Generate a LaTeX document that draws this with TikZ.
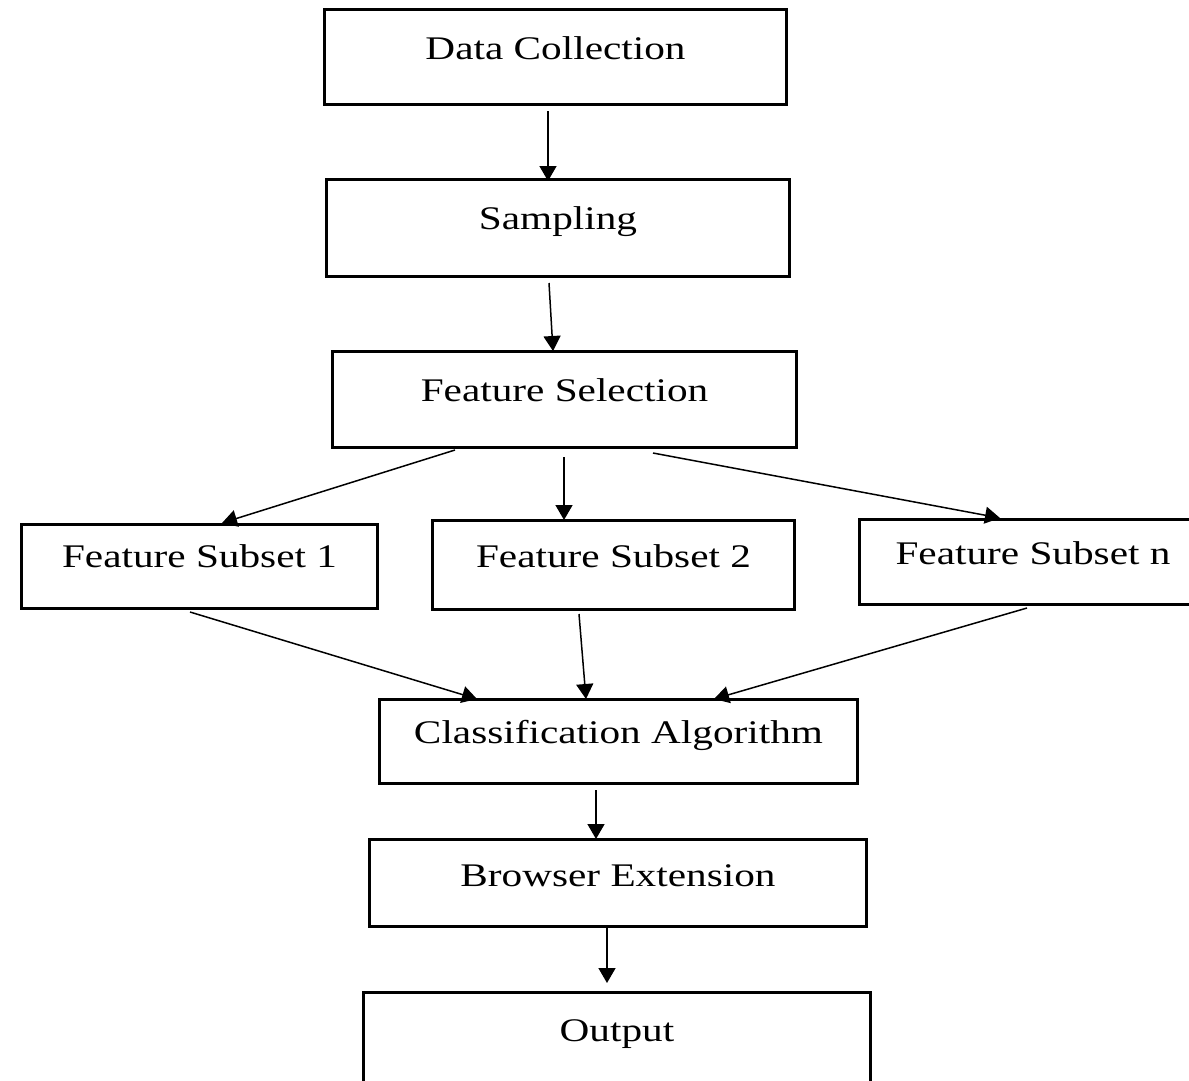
\documentclass[tikz,border=0pt]{standalone}
\usepackage{fontspec}
\setmainfont{Liberation Serif}[FakeStretch=1.25]
\usetikzlibrary{arrows.meta,calc}
\begin{document}
\begin{tikzpicture}[x=1pt,y=-1pt,
  box/.style={draw, line width=3pt, inner sep=0pt, anchor=north west,
    font=\fontsize{33}{40}\selectfont},
  arr/.style={-{Triangle[length=15pt,width=17pt]}, line width=1.5pt}]
\useasboundingbox (0,0) rectangle (1189,1080);
\clip (0,0) rectangle (1189,1080);
\node[box, minimum width=462pt, text height=50pt, text depth=45pt] (dc) at (323,8) {Data Collection};
\node[box, minimum width=463pt, text height=50pt, text depth=47pt] (sa) at (325,178) {Sampling};
\node[box, minimum width=464pt, text height=50pt, text depth=46pt] (fs) at (331,350) {Feature Selection};
\node[box, minimum width=356pt, text height=43pt, text depth=41pt] (f1) at (20,523) {Feature Subset 1};
\node[box, minimum width=362pt, text height=47pt, text depth=42pt] (f2) at (431,519) {Feature Subset 2};
\node[box, minimum width=347pt, text height=45pt, text depth=40pt] (fn) at (858,518) {Feature Subset n};
\node[box, minimum width=478pt, text height=44pt, text depth=40pt] (ca) at (378,698) {Classification Algorithm};
\node[box, minimum width=497pt, text height=47pt, text depth=40pt] (be) at (368,838) {Browser Extension};
\node[box, minimum width=507pt, text height=49pt, text depth=50pt] (out) at (362,991) {Output};
% connectors
\draw[arr] ($(dc.south west)+(225,5)$) -- ($(sa.north west)+(223,3)$);
\draw[arr] ($(sa.south west)+(224,5)$) -- ($(fs.north west)+(222,1)$);
\draw[arr] ($(fs.south west)+(124,1)$) -- ($(f1.north west)+(202,0)$);
\draw[arr] ($(fs.south west)+(233,8)$) -- ($(f2.north west)+(133,1)$);
\draw[arr] ($(fs.south west)+(322,4)$) -- ($(fn.north west)+(142,0)$);
\draw[arr] ($(f1.south west)+(170,2)$) -- ($(ca.north west)+(99,1)$);
\draw[arr] ($(f2.south west)+(148,3)$) -- ($(ca.north west)+(208,1)$);
\draw[arr] ($(fn.south west)+(169,2)$) -- ($(ca.north west)+(336,1)$);
\draw[arr] ($(ca.south west)+(218,5)$) -- ($(be.north west)+(228,1)$);
\draw[arr] ($(be.south west)+(239,0)$) -- ($(out.north west)+(245,-8)$);
\end{tikzpicture}
\end{document}
